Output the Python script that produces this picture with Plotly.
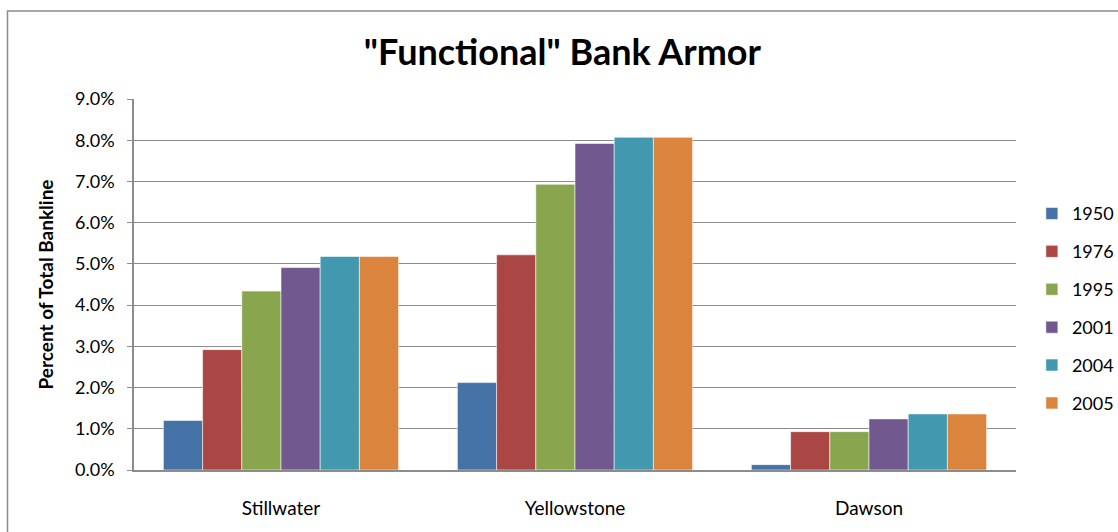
import plotly.graph_objects as go

# Share of total bankline with functional armor, by river and survey year
rivers = ["Stillwater", "Yellowstone", "Dawson"]
years = ["1950", "1976", "1995", "2001", "2004", "2005"]
armor_1950 = [0.0120, 0.0212, 0.0013]
armor_1976 = [0.0292, 0.0522, 0.0093]
armor_1995 = [0.0434, 0.0693, 0.0093]
armor_2001 = [0.0491, 0.0792, 0.0124]
armor_2004 = [0.0518, 0.0807, 0.0136]
armor_2005 = [0.0518, 0.0807, 0.0136]
series = [armor_1950, armor_1976, armor_1995, armor_2001, armor_2004, armor_2005]
colors = ["#4572A7", "#AA4643", "#89A54E", "#71588F", "#4198AF", "#DB843D"]

font_family = "Lato, 'Open Sans', sans-serif"

fig = go.Figure()
for year, vals, col in zip(years, series, colors):
    fig.add_trace(go.Bar(
        x=rivers, y=vals, name=year, legendgroup=year,
        marker=dict(color=col, line=dict(color="rgba(255,255,255,0.55)", width=1)),
    ))

fig.update_layout(
    width=1118, height=532,
    margin=dict(l=134, r=102, t=99, b=62, autoexpand=False),
    paper_bgcolor="white", plot_bgcolor="white",
    barmode="group", bargap=0.2, bargroupgap=0,
    font=dict(family=font_family, color="#000000", size=18),
    title=dict(
        text='"Functional" Bank Armor',
        font=dict(family=font_family, size=36, color="#000000", weight="bold"),
        x=0.503, xanchor="center", y=0.902, yanchor="middle",
    ),
    legend=dict(
        x=1.018, xanchor="left", y=0.436, yanchor="middle",
        font=dict(size=18), tracegroupgap=11.5, itemwidth=30,
        bgcolor="rgba(0,0,0,0)",
    ),
    showlegend=True,
)

fig.update_yaxes(
    range=[0, 0.09], dtick=0.01, tickformat=".1%",
    showgrid=True, gridcolor="#8c8c8c", gridwidth=1,
    showline=True, linecolor="#8c8c8c", linewidth=1.5,
    ticks="outside", ticklen=5, tickcolor="#8c8c8c",
    ticklabelstandoff=9,
    zeroline=False,
    title=dict(text="<b>Percent of Total Bankline</b>", font=dict(size=19), standoff=16),
)
fig.update_xaxes(
    showline=True, linecolor="#8c8c8c", linewidth=2,
    ticks="", ticklabelstandoff=20, tickfont=dict(size=19),
)

# Outer frame of the chart area
fig.add_shape(
    type="rect", xref="paper", yref="paper",
    x0=(7.5 - 134) / 882, x1=(1130 - 134) / 882,
    y0=(470 - 545) / 371, y1=(470 - 11) / 371,
    line=dict(color="#8c8c8c", width=1.5), fillcolor="rgba(0,0,0,0)", layer="below",
)

fig.write_html("out.html")
